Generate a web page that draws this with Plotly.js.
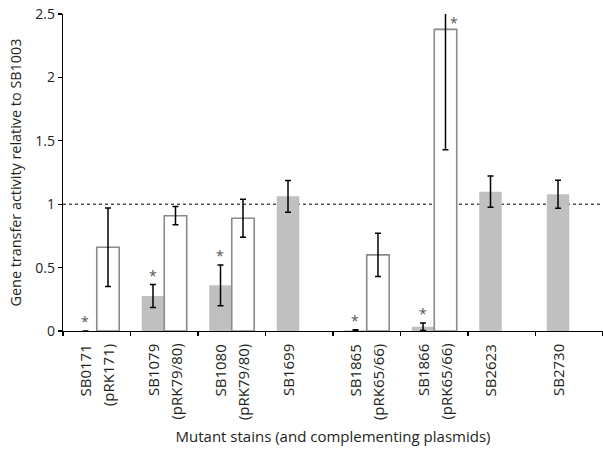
<!DOCTYPE html>
<html>
<head>
<meta charset="utf-8">
<script src="https://cdn.plot.ly/plotly-3.0.1.min.js"></script>
<style>html,body{margin:0;padding:0;background:#fff;}#chart{width:603px;height:450px;}</style>
</head>
<body>
<div id="chart"></div>
<script>
// ---- data ----
const strains = ["SB0171", "SB1079", "SB1080", "SB1699", "SB1865", "SB1866", "SB2623", "SB2730"];
const plasmids = ["(pRK171)", "(pRK79/80)", "(pRK79/80)", "", "(pRK65/66)", "(pRK65/66)", "", ""];
const mutantValues = [0.0, 0.276, 0.36, 1.062, 0.006, 0.034, 1.099, 1.078];
const mutantErrors = [0.0, 0.09, 0.16, 0.125, 0.004, 0.03, 0.124, 0.11];
const complementedValues = [0.66, 0.909, 0.889, null, 0.6, 2.379, null, null];
const complementedErrors = [0.31, 0.072, 0.15, null, 0.17, 0.95, null, null];
const mutantSignificant = [true, true, true, false, true, true, false, false];
const complementedSignificant = [false, false, false, false, false, true, false, false];
const yTicks = [0, 0.5, 1, 1.5, 2, 2.5];
const referenceLevel = 1;

const yMax = 2.5;
const slotShift = 11.3;
const textColor = "#231f20";
const fontFam = "'Open Sans', sans-serif";

const traces = [
  {
    type: "bar", name: "Mutant", x: strains, y: mutantValues, offsetgroup: "m",
    marker: {color: "#c0c0c0", line: {width: 0}},
    error_y: {type: "data", array: mutantErrors, visible: true, color: "#000", thickness: 1.5, width: 3},
    hoverinfo: "x+y"
  },
  {
    type: "bar", name: "Complemented", x: strains, y: complementedValues, offsetgroup: "c",
    marker: {color: "#ffffff", line: {width: 1.6, color: "#8a8a8a"}},
    error_y: {type: "data", array: complementedErrors, visible: true, color: "#000", thickness: 1.5, width: 3},
    hoverinfo: "x+y"
  }
];

const annotations = [];
strains.forEach((s, i) => {
  annotations.push({
    xref: "x", yref: "paper", x: s, y: 0, xshift: -slotShift, yshift: -11,
    xanchor: "center", yanchor: "top", textangle: -90, showarrow: false,
    text: s, font: {family: fontFam, size: 15, color: textColor}
  });
  if (plasmids[i]) {
    annotations.push({
      xref: "x", yref: "paper", x: s, y: 0, xshift: slotShift, yshift: -11,
      xanchor: "center", yanchor: "top", textangle: -90, showarrow: false,
      text: plasmids[i], font: {family: fontFam, size: 15, color: textColor}
    });
  }
  if (mutantSignificant[i]) {
    annotations.push({
      xref: "x", yref: "y", x: s, y: mutantValues[i] + mutantErrors[i], xshift: -slotShift, yshift: -2,
      xanchor: "center", yanchor: "bottom", showarrow: false,
      text: "*", font: {family: fontFam, size: 14, color: "#555"}
    });
  }
  if (complementedSignificant[i]) {
    const top = complementedValues[i] + complementedErrors[i];
    const clipped = top > yMax;
    annotations.push({
      xref: "x", yref: "y", x: s, y: clipped ? yMax : top,
      xshift: clipped ? slotShift + 8 : slotShift, yshift: clipped ? 3 : -2,
      xanchor: "center", yanchor: clipped ? "top" : "bottom", showarrow: false,
      text: "*", font: {family: fontFam, size: 14, color: "#555"}
    });
  }
});

const layout = {
  width: 603, height: 450,
  margin: {l: 63, r: 0, t: 14, b: 119},
  paper_bgcolor: "#fff", plot_bgcolor: "#fff",
  showlegend: false,
  barmode: "group", bargap: 0.334, bargroupgap: 0,
  font: {family: fontFam, size: 14, color: textColor},
  xaxis: {
    type: "category", showticklabels: false, tickson: "boundaries",
    ticks: "outside", ticklen: 4, tickcolor: "#000", tickwidth: 1.2,
    showline: true, linecolor: "#000", linewidth: 1.3, showgrid: false, zeroline: false,
    range: [-0.5, strains.length - 0.5],
    title: {text: "Mutant stains (and complementing plasmids)", standoff: 100,
            font: {family: fontFam, size: 15, color: textColor}}
  },
  yaxis: {
    range: [0, yMax], tickvals: yTicks, ticktext: yTicks.map(String),
    ticks: "outside", ticklen: 4, tickcolor: "#000", tickwidth: 1.2,
    showline: true, linecolor: "#000", linewidth: 1.3, showgrid: false, zeroline: false,
    tickfont: {family: fontFam, size: 14, color: textColor},
    title: {text: "Gene transfer activity relative to SB1003", standoff: 10,
            font: {family: fontFam, size: 14.4, color: textColor}}
  },
  shapes: [{
    type: "line", xref: "paper", yref: "y", x0: 0, x1: 1, y0: referenceLevel, y1: referenceLevel,
    layer: "below", line: {color: "#000", width: 1, dash: "dot"}
  }],
  annotations: annotations
};

Plotly.newPlot("chart", traces, layout, {displayModeBar: false, staticPlot: true});
</script>
</body>
</html>
